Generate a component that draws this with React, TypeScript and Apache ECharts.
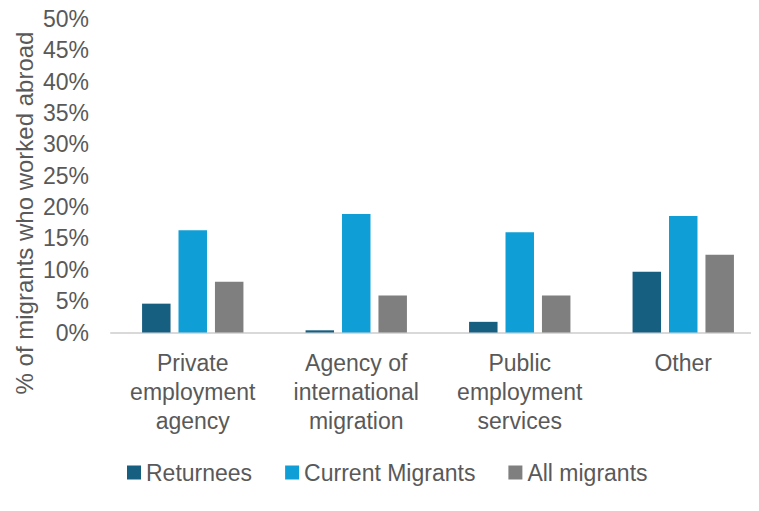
import React, { useEffect, useRef } from "react";
import * as echarts from "echarts";

const categories = [
  "Private\nemployment\nagency",
  "Agency of\ninternational\nmigration",
  "Public\nemployment\nservices",
  "Other",
];
const returnees = [4.6, 0.35, 1.7, 9.7];
const currentMigrants = [16.3, 18.9, 16.0, 18.6];
const allMigrants = [8.1, 5.9, 5.9, 12.4];
const seriesNames = ["Returnees", "Current Migrants", "All migrants"];
const colors = ["#175f80", "#0f9ed5", "#7f7f7f"];
const yTitle = "% of migrants who worked abroad";

const FONT = "Liberation Sans, Arial, sans-serif";
const TEXT = "#595959";

export default function App() {
  const ref = useRef<HTMLDivElement>(null);
  useEffect(() => {
    if (!ref.current) return;
    const chart = echarts.init(ref.current, undefined, { renderer: "svg" });
    const data = [returnees, currentMigrants, allMigrants];
    chart.setOption({
      animation: false,
      textStyle: { fontFamily: FONT },
      grid: { left: 111, width: 654, top: 19, height: 313.5, containLabel: false },
      legend: {
        data: seriesNames,
        left: 122,
        top: 456,
        itemWidth: 14,
        itemHeight: 14,
        itemGap: 33,
        icon: "rect",
        textStyle: { color: TEXT, fontSize: 23, fontFamily: FONT },
      },
      xAxis: {
        type: "category",
        data: categories,
        axisLine: { show: true, lineStyle: { color: "#d9d9d9", width: 2 } },
        axisTick: { show: false },
        axisLabel: {
          color: TEXT,
          fontSize: 23,
          fontFamily: FONT,
          lineHeight: 29,
          margin: 16,
          interval: 0,
        },
      },
      yAxis: {
        type: "value",
        min: 0,
        max: 50,
        interval: 5,
        axisLine: { show: false },
        axisTick: { show: false },
        splitLine: { show: false },
        axisLabel: {
          color: TEXT,
          fontSize: 23,
          fontFamily: FONT,
          margin: 22,
          formatter: "{value}%",
        },
      },
      graphic: [
        {
          type: "text",
          x: 24,
          y: 213,
          rotation: Math.PI / 2,
          style: {
            text: yTitle,
            fontSize: 24,
            fontFamily: FONT,
            fill: TEXT,
            align: "center",
            verticalAlign: "middle",
          },
        },
      ],
      series: seriesNames.map((name, i) => ({
        name,
        type: "bar",
        data: data[i],
        itemStyle: { color: colors[i] },
        barGap: "28%",
        barCategoryGap: "38%",
      })),
    });
    return () => chart.dispose();
  }, []);
  return (
    <div style={{ width: 759, height: 511, margin: -8, overflow: "hidden", position: "relative" }}>
      <div ref={ref} style={{ width: 775, height: 511 }} />
    </div>
  );
}
